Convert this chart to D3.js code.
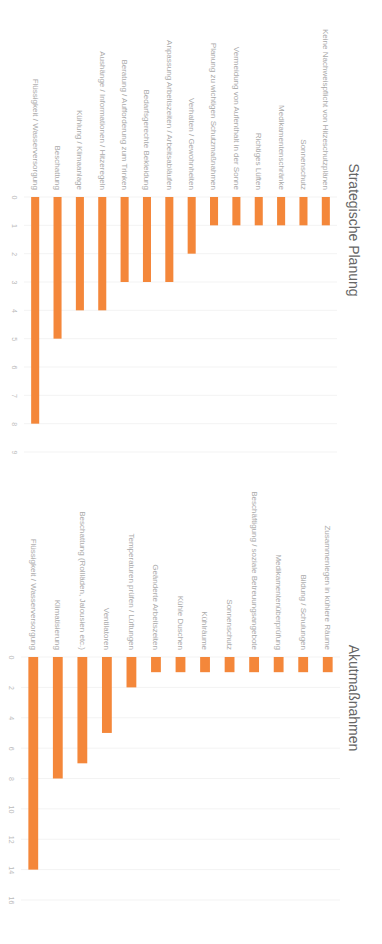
<!DOCTYPE html>
<meta charset="utf-8">
<style>
body { margin: 0; background: #fff; font-family: "Liberation Sans", Arial, sans-serif; }
.axis path { stroke: none; }
.axis line { stroke: none; }
.vals text { fill: #bbb; font-size: 7px; }
.cats text { fill: #aaa; font-size: 8px; }
.grid line { stroke: #f3f3f3; stroke-width: 1; }
.title { fill: #666; font-size: 14px; }
</style>
<body>
<script src="https://cdn.jsdelivr.net/npm/d3@7"></script>
<script>
// Strategische Planung
var planLabels = [
  "Keine Nachweispflicht von Hitzeschutzplänen",
  "Sonnenschutz",
  "Medikamentenschränke",
  "Richtiges Lüften",
  "Vermeidung von Aufenthalt in der Sonne",
  "Planung zu wichtigen Schutzmaßnahmen",
  "Verhalten / Gewohnheiten",
  "Anpassung Arbeitszeiten / Arbeitsabläufen",
  "Bedarfsgerechte Bekleidung",
  "Beratung / Aufforderung zum Trinken",
  "Aushänge / Informationen / Hitzeregeln",
  "Kühlung / Klimaanlage",
  "Beschattung",
  "Flüssigkeit / Wasserversorgung"
];
var planValues = [1, 1, 1, 1, 1, 1, 2, 3, 3, 3, 4, 4, 5, 8];
var planTicks = [0, 1, 2, 3, 4, 5, 6, 7, 8, 9];

// Akutmaßnahmen
var akutLabels = [
  "Zusammenlegen in kühlere Räume",
  "Bildung / Schulungen",
  "Medikamentenüberprüfung",
  "Beschäftigung / soziale Betreuungsangebote",
  "Sonnenschutz",
  "Kühlräume",
  "Kühle Duschen",
  "Geänderte Arbeitszeiten",
  "Temperaturen prüfen / Lüftungen",
  "Ventilatoren",
  "Beschattung (Rollläden, Jalousien etc.)",
  "Klimatisierung",
  "Flüssigkeit / Wasserversorgung"
];
var akutValues = [1, 1, 1, 1, 1, 1, 1, 1, 2, 5, 7, 8, 14];
var akutTicks = [0, 2, 4, 6, 8, 10, 12, 14, 16];

var barColor = "#f4873a";

var svg = d3.select("body").append("svg")
    .attr("width", 382)
    .attr("height", 944);

// chart is drawn upright then turned a quarter clockwise
var chart = svg.append("g")
    .attr("transform", "translate(382,0) rotate(90)");

function panel(labels, values, ticks, xRange, yRange, pad, title, titleX) {
  var x = d3.scaleLinear().domain([0, ticks[ticks.length - 1]]).range(xRange);
  var y = d3.scaleBand().domain(labels).range(yRange)
      .paddingInner(pad).paddingOuter(pad / 2);

  chart.append("g")
      .attr("class", "grid")
      .selectAll("line")
      .data(ticks)
      .enter().append("line")
      .attr("x1", function(d) { return x(d); })
      .attr("x2", function(d) { return x(d); })
      .attr("y1", yRange[0])
      .attr("y2", yRange[1]);

  chart.append("g").selectAll("rect")
      .data(values)
      .enter().append("rect")
      .attr("x", x(0))
      .attr("y", function(d, i) { return y(labels[i]); })
      .attr("width", function(d) { return x(d) - x(0); })
      .attr("height", y.bandwidth())
      .attr("fill", barColor);

  chart.append("g")
      .attr("class", "axis vals")
      .attr("transform", "translate(0," + (yRange[1] + 2) + ")")
      .call(d3.axisBottom(x).tickValues(ticks).tickSize(0).tickPadding(5));

  chart.append("g")
      .attr("class", "axis cats")
      .attr("transform", "translate(" + x(0) + ",0)")
      .call(d3.axisLeft(y).tickSize(0).tickPadding(7));

  chart.append("text")
      .attr("class", "title")
      .attr("x", titleX)
      .attr("y", 33)
      .attr("text-anchor", "middle")
      .text(title);
}

panel(planLabels, planValues, planTicks, [197, 452], [45, 358], 0.64,
      "Strategische Planung", 230);
panel(akutLabels, akutValues, akutTicks, [657, 900], [42, 361], 0.6,
      "Akutmaßnahmen", 698);
</script>
</body>
